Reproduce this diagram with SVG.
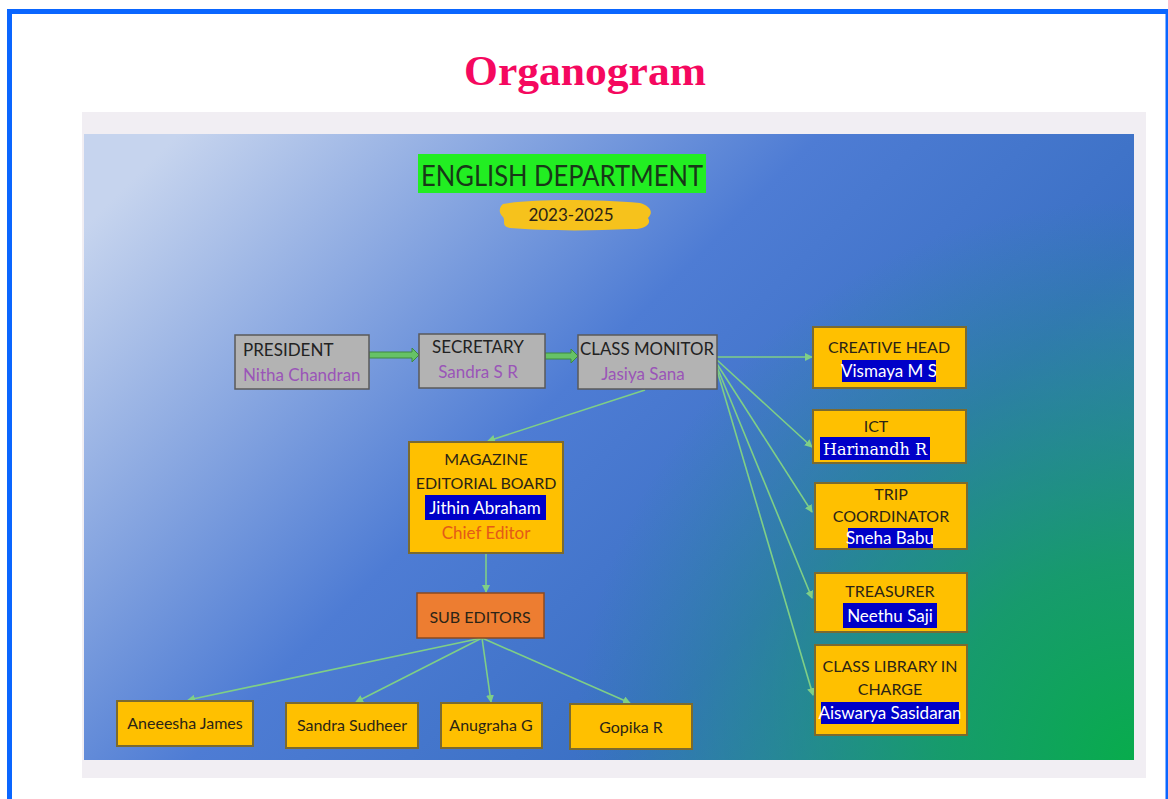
<svg xmlns="http://www.w3.org/2000/svg" width="1168" height="799" viewBox="0 0 1168 799">
<style>
.t{font-family:Lato,"Open Sans","Liberation Sans",sans-serif;}
.dark{fill:#2b2416;font-size:16px;text-anchor:middle;}
.gb{fill:#b3b3b3;stroke:#5a5a5a;stroke-width:1.5;}
.yb{fill:#ffc000;stroke:#7a6a30;stroke-width:2;}
.hl{fill:#0000c8;}
.wt{fill:#ffffff;font-size:17px;text-anchor:middle;}
.pu{fill:#9a55b8;font-size:17px;}
.con{stroke:#7fcf86;stroke-width:1.6;fill:none;marker-end:url(#ah);}
</style>
<defs>
<linearGradient id="bg" x1="0" y1="0.15" x2="1" y2="0.75">
<stop offset="0" stop-color="#c6d4ee"/>
<stop offset="0.45" stop-color="#4e7cd4"/>
<stop offset="0.75" stop-color="#3a70c4"/>
<stop offset="1" stop-color="#2f80b0"/>
</linearGradient>
<radialGradient id="gr" cx="1134" cy="760" r="560" gradientUnits="userSpaceOnUse">
<stop offset="0" stop-color="#08ac4c" stop-opacity="1"/>
<stop offset="0.35" stop-color="#12a060" stop-opacity="0.85"/>
<stop offset="1" stop-color="#1a9080" stop-opacity="0"/>
</radialGradient>
<marker id="ah" markerWidth="8" markerHeight="8" refX="7" refY="4" orient="auto" markerUnits="userSpaceOnUse">
<path d="M0,0 L8,4 L0,8 Z" fill="#7fcf86"/>
</marker>
</defs>
<rect x="0" y="0" width="1168" height="799" fill="#ffffff"/>
<path d="M9.5,799 V11.5 H1167" fill="none" stroke="#0a66ff" stroke-width="5"/>
<rect x="1165.5" y="9" width="2.5" height="790" fill="#0a66ff"/>
<text x="585" y="85" font-family="Liberation Serif,serif" font-weight="bold" font-size="42" fill="#f5085f" text-anchor="middle" textLength="242" lengthAdjust="spacingAndGlyphs">Organogram</text>
<rect x="82" y="112" width="1064" height="666" fill="#f1eef3"/>
<rect x="84" y="134" width="1050" height="626" fill="url(#bg)"/>
<rect x="84" y="134" width="1050" height="626" fill="url(#gr)"/>
<g id="header">
<rect x="418" y="154" width="288" height="39" fill="#22ee22"/>
<text class="t" x="562" y="186" font-size="28" fill="#183818" text-anchor="middle" textLength="282" lengthAdjust="spacingAndGlyphs">ENGLISH DEPARTMENT</text>
<path d="M503,204 C540,198 600,200 640,203 C650,206 654,212 648,218 C652,224 645,230 630,229 C590,231 545,231 510,228 C500,226 507,220 502,216 C498,212 500,206 503,204 Z" fill="#f6c21c"/>
<text class="t" x="571" y="221" font-size="17" fill="#2b2416" text-anchor="middle">2023-2025</text>
</g>
<g id="connectors">
<path d="M369,352 H412 V348 L419,355 L412,362 V358 H369 Z" fill="#66c266" stroke="#3e8a3e" stroke-width="1"/>
<path d="M545,353 H571 V349 L578,356 L571,363 V359 H545 Z" fill="#66c266" stroke="#3e8a3e" stroke-width="1"/>
<line class="con" x1="717" y1="357" x2="812" y2="357"/>
<line class="con" x1="717" y1="360" x2="812" y2="447"/>
<line class="con" x1="717" y1="364" x2="812" y2="512"/>
<line class="con" x1="717" y1="367" x2="812" y2="598"/>
<line class="con" x1="717" y1="370" x2="813" y2="695"/>
<line class="con" x1="645" y1="390" x2="488" y2="441"/>
<line class="con" x1="486" y1="553" x2="486" y2="592"/>
<line class="con" x1="482" y1="638" x2="188" y2="700"/>
<line class="con" x1="482" y1="638" x2="356" y2="702"/>
<line class="con" x1="482" y1="638" x2="491" y2="702"/>
<line class="con" x1="482" y1="638" x2="630" y2="703"/>
</g>
<g id="president">
<rect class="gb" x="235" y="335" width="134" height="54"/>
<text class="t" x="243" y="356" font-size="17" fill="#222">PRESIDENT</text>
<text class="t pu" x="243" y="381">Nitha Chandran</text>
</g>
<g id="secretary">
<rect class="gb" x="419" y="334" width="126" height="54"/>
<text class="t" x="478" y="353" font-size="17" fill="#222" text-anchor="middle">SECRETARY</text>
<text class="t pu" x="478" y="378" text-anchor="middle">Sandra S R</text>
</g>
<g id="class-monitor">
<rect class="gb" x="578" y="335" width="139" height="54"/>
<text class="t" x="647" y="355" font-size="17" fill="#222" text-anchor="middle" textLength="134" lengthAdjust="spacingAndGlyphs">CLASS MONITOR</text>
<text class="t pu" x="643" y="380" text-anchor="middle">Jasiya Sana</text>
</g>
<g id="creative-head">
<rect class="yb" x="813" y="327" width="153" height="61"/>
<text class="t dark" x="889" y="353">CREATIVE HEAD</text>
<rect class="hl" x="842" y="360" width="94" height="22"/>
<text class="t wt" x="889" y="377" font-size="16">Vismaya M S</text>
</g>
<g id="ict">
<rect class="yb" x="813" y="410" width="153" height="53"/>
<text class="t dark" x="876" y="432">ICT</text>
<rect class="hl" x="820" y="437" width="110" height="23"/>
<text x="875" y="455" font-family="DejaVu Serif,serif" font-size="16" fill="#fff" text-anchor="middle">Harinandh R</text>
</g>
<g id="trip-coordinator">
<rect class="yb" x="815" y="483" width="152" height="66"/>
<text class="t dark" x="891" y="500">TRIP</text>
<text class="t dark" x="891" y="522">COORDINATOR</text>
<rect class="hl" x="848" y="528" width="85" height="20"/>
<text class="t wt" x="890" y="544" font-size="15.5">Sneha Babu</text>
</g>
<g id="treasurer">
<rect class="yb" x="815" y="573" width="152" height="59"/>
<text class="t dark" x="890" y="597" font-size="17">TREASURER</text>
<rect class="hl" x="843" y="603" width="94" height="25"/>
<text class="t wt" x="890" y="622" font-size="18">Neethu Saji</text>
</g>
<g id="class-library">
<rect class="yb" x="815" y="645" width="152" height="90"/>
<text class="t dark" x="890" y="672" font-size="15">CLASS LIBRARY IN</text>
<text class="t dark" x="890" y="695" font-size="15">CHARGE</text>
<rect class="hl" x="821" y="702" width="138" height="22"/>
<text class="t wt" x="890" y="719" font-size="15.5">Aiswarya Sasidaran</text>
</g>
<g id="magazine">
<rect class="yb" x="409" y="442" width="154" height="111"/>
<text class="t dark" x="486" y="465">MAGAZINE</text>
<text class="t dark" x="486" y="489">EDITORIAL BOARD</text>
<rect class="hl" x="425" y="495" width="121" height="25"/>
<text class="t wt" x="485" y="514">Jithin Abraham</text>
<text class="t" x="486" y="539" font-size="17" fill="#e45a18" text-anchor="middle">Chief Editor</text>
</g>
<g id="sub-editors">
<rect x="417" y="593" width="127" height="45" fill="#ed7d31" stroke="#8a4a20" stroke-width="1.5"/>
<text class="t dark" x="480" y="623" font-size="17">SUB EDITORS</text>
</g>
<g id="aneeesha">
<rect class="yb" x="117" y="701" width="136" height="45"/>
<text class="t dark" x="185" y="729">Aneeesha James</text>
</g>
<g id="sandra-sudheer">
<rect class="yb" x="286" y="703" width="132" height="45"/>
<text class="t dark" x="352" y="731">Sandra Sudheer</text>
</g>
<g id="anugraha">
<rect class="yb" x="441" y="703" width="101" height="45"/>
<text class="t dark" x="491" y="731">Anugraha G</text>
</g>
<g id="gopika">
<rect class="yb" x="570" y="704" width="122" height="45"/>
<text class="t dark" x="631" y="733">Gopika R</text>
</g>
</svg>
